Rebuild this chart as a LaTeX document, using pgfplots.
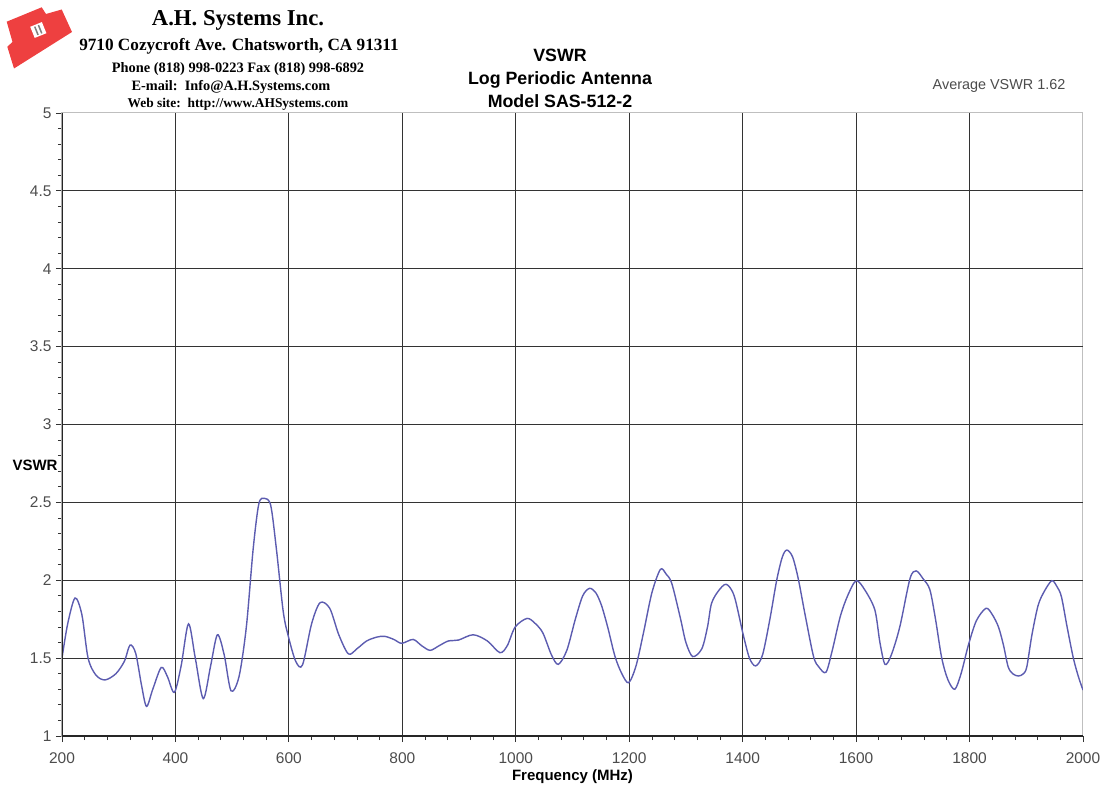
\documentclass[border=0pt]{standalone}
\usepackage{pgfplots}
\pgfplotsset{compat=1.18}
\usepackage{fontspec}
\setmainfont{Liberation Sans}
\newfontfamily\serifb{Liberation Serif}
\definecolor{curve}{RGB}{92,92,176}
\definecolor{logored}{RGB}{238,64,64}
\pgfplotstableread{
x y
200 1.50
210 1.72
223 1.886
235 1.78
246 1.50
260 1.39
276 1.36
295 1.40
310 1.48
320 1.584
330 1.53
340 1.33
349 1.19
360 1.30
375 1.44
386 1.38
398 1.28
410 1.45
423 1.72
435 1.50
449 1.24
462 1.45
474 1.65
486 1.52
498 1.29
512 1.38
525 1.70
537 2.20
547 2.49
557 2.526
568 2.48
578 2.20
590 1.80
599 1.64
612 1.48
624 1.456
640 1.72
655 1.856
672 1.82
688 1.65
705 1.527
720 1.56
737 1.61
755 1.635
769 1.64
785 1.62
799 1.595
819 1.62
834 1.58
849 1.55
865 1.58
881 1.61
899 1.616
925 1.65
950 1.61
972 1.535
985 1.58
999 1.70
1020 1.755
1035 1.72
1048 1.66
1063 1.52
1075 1.46
1090 1.55
1105 1.75
1118 1.90
1130 1.948
1141 1.92
1151 1.84
1162 1.70
1175 1.51
1187 1.40
1199 1.342
1212 1.45
1225 1.66
1240 1.92
1255 2.07
1265 2.04
1275 1.98
1290 1.76
1300 1.60
1312 1.51
1328 1.56
1338 1.70
1345 1.85
1357 1.93
1371 1.974
1385 1.90
1401 1.65
1412 1.50
1423 1.45
1435 1.52
1448 1.75
1460 2.00
1470 2.15
1478 2.194
1488 2.15
1498 2.01
1510 1.78
1525 1.51
1535 1.44
1547 1.41
1558 1.55
1572 1.766
1585 1.90
1600 1.997
1615 1.94
1633 1.81
1642 1.60
1651 1.46
1662 1.52
1677 1.70
1695 2.01
1706 2.06
1718 2.01
1730 1.94
1740 1.75
1751 1.50
1762 1.36
1774 1.30
1785 1.40
1798 1.584
1812 1.74
1829 1.82
1840 1.78
1851 1.70
1860 1.58
1868 1.445
1876 1.40
1886 1.385
1895 1.40
1901 1.445
1910 1.65
1921 1.84
1932 1.93
1945 1.997
1954 1.96
1962 1.894
1972 1.70
1983 1.50
1992 1.38
2000 1.295
}\vswr
\begin{document}
\begin{tikzpicture}[x=1pt,y=1pt]
\path[use as bounding box] (0,0) rectangle (1104,788);
% logo
\fill[logored] (6.7,766.3) -- (41.7,780.7) -- (46,774) -- (61.7,778.5) -- (72,756) -- (14,719.5) -- (7.3,741.3) -- (12.5,746) -- cycle;
\fill[white, rotate around={22:(38.3,758)}] (32,752) rectangle (44.6,764);
\fill[gray, rotate around={22:(38.3,758)}] (35.5,753.5) rectangle (37,762.5);
\fill[gray, rotate around={22:(38.3,758)}] (39.5,753.5) rectangle (41,762.5);
% company header
\node[font=\serifb\bfseries\fontsize{22.7}{22.7}\selectfont] at (238,768) {A.H. Systems Inc.};
\node[font=\serifb\bfseries\fontsize{17.2}{17.2}\selectfont] at (239,742) {9710 Cozycroft Ave. Chatsworth, CA 91311};
\node[font=\serifb\bfseries\fontsize{14.4}{14.4}\selectfont] at (238,719) {Phone (818) 998-0223 Fax (818) 998-6892};
\node[font=\serifb\bfseries\fontsize{14.3}{14.3}\selectfont] at (231,701) {E-mail:\ \ Info@A.H.Systems.com};
\node[font=\serifb\bfseries\fontsize{13.4}{13.4}\selectfont] at (238,684) {Web site:\ \ http://www.AHSystems.com};
% title
\node[font=\bfseries\fontsize{17.8}{23}\selectfont, align=center] at (560,710) {VSWR\\Log Periodic Antenna\\Model SAS-512-2};
\node[font=\fontsize{14.4}{14.4}\selectfont, text=black!70] at (999,702) {Average VSWR 1.62};
\begin{axis}[
  at={(62pt,52pt)}, anchor=south west,
  scale only axis, width=1021pt, height=623pt,
  xmin=200, xmax=2000, ymin=1, ymax=5,
  xtick={200,400,...,2000},
  xticklabels={200,400,600,800,1000,1200,1400,1600,1800,2000},
  ytick={1,1.5,...,5},
  yticklabels={1,1.5,2,2.5,3,3.5,4,4.5,5},
  minor x tick num=4, minor y tick num=4,
  extra x ticks={400,600,...,1800}, extra x tick labels={},
  extra y ticks={1.5,2,...,4.5}, extra y tick labels={},
  extra x tick style={grid=major, major tick length=0pt},
  extra y tick style={grid=major, major tick length=0pt},
  major grid style={black!80, line width=1.1pt},
  tick pos=left, tick align=outside,
  major tick length=6pt, minor tick length=4pt,
  every tick/.style={black!80, line width=0.8pt},
  axis line style={gray!50, line width=1pt},
  /pgf/number format/assume math mode=true,
  tick label style={font=\fontsize{15.5}{15.5}\selectfont, text=black!70},
  xticklabel style={yshift=-7pt},
  yticklabel style={xshift=-1pt},
  xlabel={Frequency (MHz)},
  xlabel style={font=\bfseries\fontsize{15}{15}\selectfont, at={(axis description cs:0.5,-0.066)}, anchor=center},
  ylabel={VSWR},
  ylabel style={font=\bfseries\fontsize{15}{15}\selectfont, rotate=-90, at={(axis description cs:-0.0264,0.435)}, anchor=center},
]
\addplot[curve, line width=1.4pt, smooth, tension=0.5] table[x=x,y=y] {\vswr};
\draw[black!85, line width=1.1pt] (rel axis cs:0,1) -- (rel axis cs:0,0) -- (rel axis cs:1,0);
\end{axis}
\end{tikzpicture}
\end{document}
